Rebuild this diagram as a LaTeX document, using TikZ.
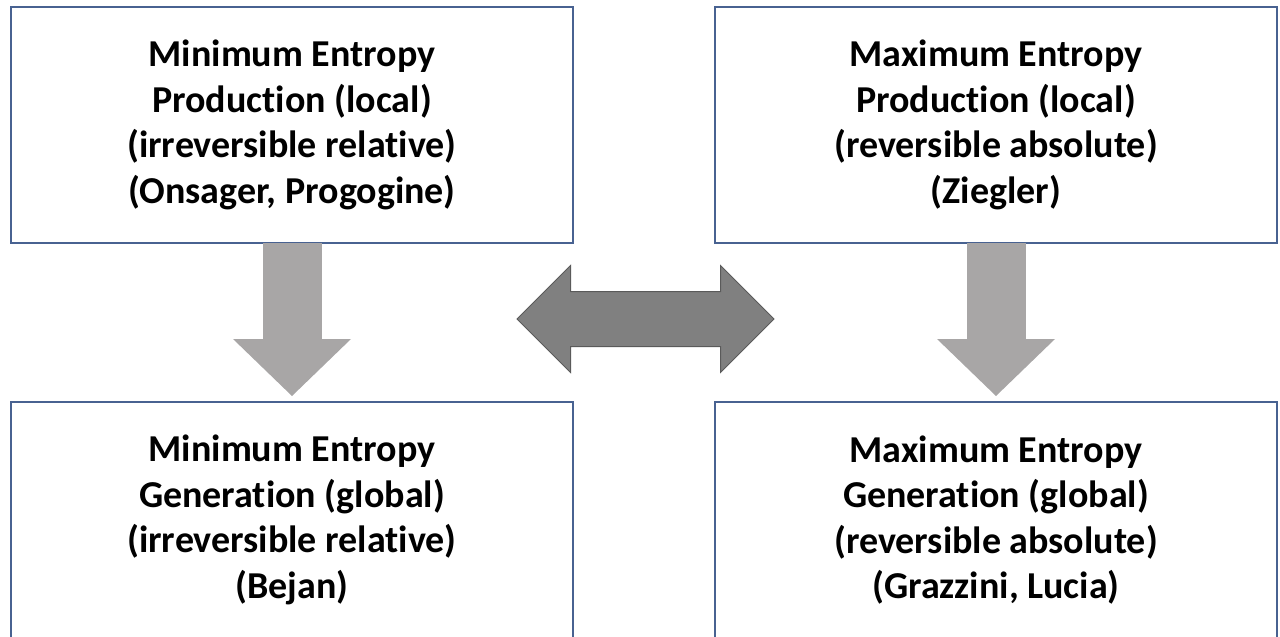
\documentclass[tikz,border=0pt]{standalone}
\usepackage{fontspec}
\setmainfont{Carlito}[Ligatures=NoCommon]
\usetikzlibrary{arrows.meta,shapes.arrows}

\definecolor{boxline}{RGB}{72,98,145}
\definecolor{downgray}{RGB}{168,166,166}
\definecolor{dblgray}{RGB}{128,128,128}
\definecolor{dbledge}{RGB}{90,90,90}

\tikzset{
  entbox/.style={draw=boxline, line width=2pt, fill=white, minimum width=562pt,
    minimum height=236pt, align=center, inner sep=0pt,
    font=\fontsize{38}{45.5}\selectfont\bfseries,
    execute at begin node={\rule{0pt}{36pt}}},
  downarrow/.style={draw=downgray, line width=59pt,
    -{Triangle[width=118pt,length=57pt,line width=0pt]}, shorten >=5pt},
  bothways/.style={double arrow, draw=dbledge, line width=1pt, fill=dblgray,
    minimum height=257pt, minimum width=106pt, inner sep=27pt,
    double arrow head extend=26pt}
}

\begin{document}
\begin{tikzpicture}[x=1pt,y=-1pt]
  \useasboundingbox (0,0) rectangle (1280,637);

  % local principles (top row)
  \node[entbox] (minprod) at (292,125) {Minimum Entropy\\Production (local)\\(irreversible relative)\\(Onsager, Progogine)};
  \node[entbox] (maxprod) at (996,125) {Maximum Entropy\\Production (local)\\(reversible absolute)\\(Ziegler)};

  % global principles (bottom row)
  \node[entbox] (mingen) at (292,520) {Minimum Entropy\\Generation (global)\\(irreversible relative)\\(Bejan)};
  \node[entbox] (maxgen) at (996,520) {Maximum Entropy\\Generation (global)\\(reversible absolute)\\(Grazzini, Lucia)};

  % local to global
  \draw[downarrow] ([yshift=1.5pt]minprod.south) -- (mingen.north);
  \draw[downarrow] ([yshift=1.5pt]maxprod.south) -- (maxgen.north);

  % min <-> max
  \node[bothways] (minmax) at (645.5,319) {};
\end{tikzpicture}
\end{document}
